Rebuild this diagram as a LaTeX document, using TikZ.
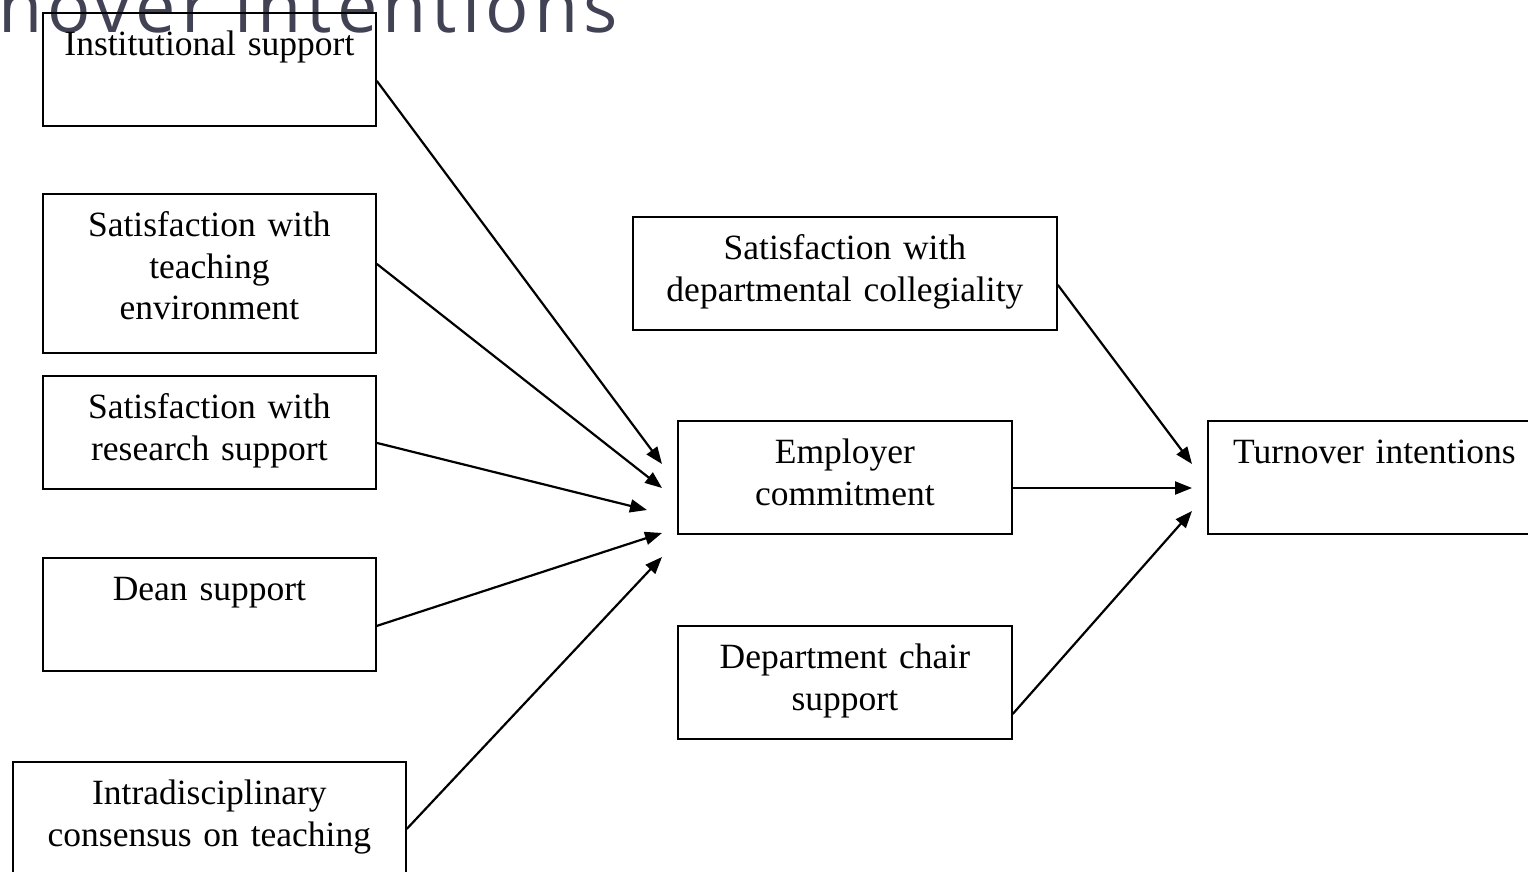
\documentclass[tikz,border=0pt]{standalone}
\usepackage{fontspec}
\setmainfont{Liberation Serif}
\newfontfamily\titlefont[LetterSpace=7]{Open Sans}
\usepackage{xcolor}
\usetikzlibrary{arrows.meta}
\definecolor{titlegray}{HTML}{414254}

\begin{document}
\begin{tikzpicture}[x=1pt,y=-1pt,
-{Triangle[length=17pt,width=13pt]},>={Triangle[length=17pt,width=13pt]}]
     \tikzstyle{factor}=[draw,line width=1.8pt,inner sep=0pt,align=center,
       text height=43pt,anchor=north west,font=\fontsize{35.5}{41.5}\selectfont]
     \tikzstyle{edge} = [draw,line width=2.2pt,black]
     \useasboundingbox (0,0) rectangle (1528,872);
     \clip (0,0) rectangle (1528,872);

     % heading, partly off the page
     \node[anchor=base east,inner sep=0pt,text=titlegray,
       font=\titlefont\fontsize{72}{80}\selectfont] (title) at (618,33) {Turnover intentions};

     % antecedents
     \node[factor,text width=333pt,text depth=70pt] (inst) at (42,12) {Institutional support};
     \node[factor,text width=333pt,text depth=116pt] (teach) at (42,193) {Satisfaction with\\ teaching\\ environment};
     \node[factor,text width=333pt,text depth=70pt] (research) at (42,375) {Satisfaction with\\ research support};
     \node[factor,text width=333pt,text depth=70pt] (dean) at (42,557) {Dean support};
     \node[factor,text width=393pt,text depth=70pt] (intra) at (12,761) {Intradisciplinary\\ consensus on teaching};

     % mediator and outcome
     \node[factor,text width=424pt,text depth=70pt] (coll) at (632,216) {Satisfaction with\\ departmental collegiality};
     \node[factor,text width=334pt,text depth=70pt] (emp) at (677,420) {Employer\\ commitment};
     \node[factor,text width=334pt,text depth=70pt] (chair) at (677,625) {Department chair\\ support};
     \node[factor,text width=333pt,text depth=70pt] (turn) at (1207,420) {Turnover intentions};

     % arrow tips stop short of the boxes
     \coordinate (e1) at (662,464);
     \coordinate (e2) at (662,488);
     \coordinate (e3) at (647,510);
     \coordinate (e4) at (662,533);
     \coordinate (e5) at (662,557);
     \coordinate (t1) at (1192,464);
     \coordinate (t2) at (1192,488);
     \coordinate (t3) at (1192,511);

     \draw[edge] ([yshift=-11.5pt]inst.east) -- (e1);
     \draw[edge] ([yshift=9.5pt]teach.east) -- (e2);
     \draw[edge] ([yshift=-10.5pt]research.east) -- (e3);
     \draw[edge] ([yshift=-11.5pt]dean.east) -- (e4);
     \draw[edge] ([yshift=-10.5pt]intra.east) -- (e5);

     \draw[edge] ([yshift=-11.5pt]coll.east) -- (t1);
     \draw[edge] (emp.east |- t2) -- (t2);
     \draw[edge] ([yshift=-31.5pt]chair.east) -- (t3);
 \end{tikzpicture}
\end{document}
